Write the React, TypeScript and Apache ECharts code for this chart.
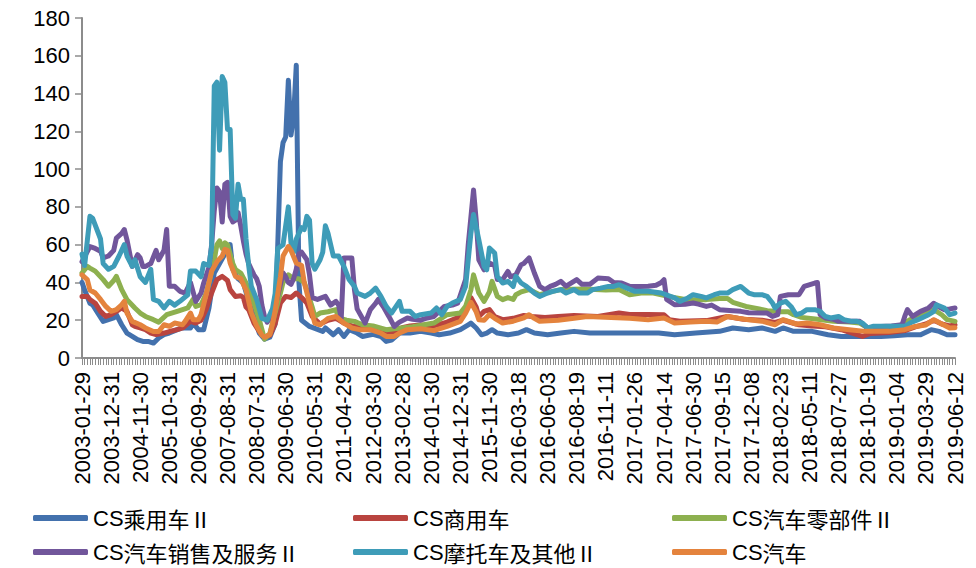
import React, { useEffect, useRef } from "react";
import * as echarts from "echarts";

// Tick label dates (every 11th category)
const labelDates = [
  "2003-01-29", "2003-12-31", "2004-11-30", "2005-10-31", "2006-09-29", "2007-08-31",
  "2008-07-31", "2009-06-30", "2010-05-31", "2011-04-29", "2012-03-30", "2013-02-28",
  "2014-01-30", "2014-12-31", "2015-11-30", "2016-03-18", "2016-06-03", "2016-08-19",
  "2016-11-11", "2017-01-26", "2017-04-14", "2017-06-30", "2017-09-15", "2017-12-08",
  "2018-02-23", "2018-05-11", "2018-07-27", "2018-10-19", "2019-01-04", "2019-03-29",
  "2019-06-12",
];

const seriesNames = [
  "CS乘用车Ⅱ",
  "CS商用车",
  "CS汽车零部件Ⅱ",
  "CS汽车销售及服务Ⅱ",
  "CS摩托车及其他Ⅱ",
  "CS汽车",
];

// [category index, value] pairs
const passengerCar = [
  [0,40],[1,36],[3,29],[4,28.2],[6,23.8],[8,19.4],[10,20.3],[12,21.2],[13,23],[15,17.6],[17,13.2],[19,11.5],
  [21,9.7],[23,8.8],[25,8.8],[27,7.9],[29,10.6],[31,12.4],[33,13.2],[36,15],[38,15.9],[41,15.9],[42,18.5],
  [44,15],[46,15],[48,26.5],[50,45],[52,50],[54,55],[55,58],[56,60],[57,47],[59,42],[61,39.7],[63,30],[65,22],
  [67,13.2],[69,10],[71,11],[73,18],[74,60],[75,104],[76,114],[77,117],[78,147],[79,118],[80,128],[81,155],
  [82,40],[83,20],[86,16.7],[91,14.1],[92,15.9],[95,12.3],[97,15],[99,11.4],[101,15],[104,13.2],[106,11.4],
  [110,12.5],[113,11.4],[115,8.8],[117,9.5],[120,13.2],[124,13.2],[128,14.1],[132,13.2],[135,12.3],[139,13.2],
  [143,15],[146,17.6],[147,18.5],[149,15.9],[151,12.3],[153,13.2],[155,15],[157,13.2],[161,12.3],[165,13.2],
  [168,15],[171,13.2],[176,12.3],[181,13.2],[186,14.1],[192,13.2],[200,13.2],[206,13.2],[211,13.2],[218,13.2],
  [224,12.3],[232,13.2],[241,14.1],[246,15.9],[252,15],[257,15.9],[262,14.1],[265,15.9],[269,14.1],[276,14.1],
  [282,12.3],[287,11.4],[295,11.4],[302,11.4],[307,11.8],[312,12.3],[317,12.3],[321,15],[324,14.1],[327,12.3],
  [330,12.3],
];

const commercialCar = [
  [0,32.6],[2,32.6],[3,31],[5,29],[7,24.7],[9,22],[11,23],[13,24.7],[15,26.5],[17,24.7],[19,17.6],[20,16.8],
  [22,15.9],[24,15],[26,13.2],[28,12.4],[31,13.2],[33,14],[36,15],[38,15.9],[41,19.4],[43,18.5],[45,20],[47,26],
  [49,34.4],[51,41.5],[53,43.2],[55,41],[56,36.2],[58,32.6],[60,33],[61,32],[62,27],[63,25.6],[65,18.5],[67,14.1],
  [69,11],[71,12],[73,18],[75,29.1],[77,32.6],[79,32],[81,34.4],[83,32],[85,29.1],[87,22],[90,18],[93,20],[96,21],
  [99,18.5],[102,17],[106,16.5],[110,16],[113,15],[115,14],[118,14],[121,16],[124,17],[128,17.5],[133,17],[138,19],
  [143,22],[145,25],[147,32],[149,27],[150,22],[152,24.7],[154,25.6],[156,22],[159,20.3],[163,21],[167,22.5],
  [170,22],[175,21.5],[180,22],[186,22.5],[195,22],[203,23.8],[207,23],[214,23],[220,22.9],[222,20.3],[226,19.5],
  [236,19.8],[244,22],[250,20.5],[257,20],[262,18.8],[265,20],[271,17.6],[276,17],[281,16.5],[287,15],[295,11.4],
  [298,13],[305,13.5],[311,14.5],[315,16.5],[319,18],[322,20],[325,18],[328,17],[330,17.6],
];

const autoParts = [
  [0,45],[2,48.5],[3,47.6],[5,46],[8,41.5],[10,38],[12,41],[13,43.2],[15,36.2],[17,30.9],[20,26.5],[22,23.8],
  [24,22],[27,20.3],[29,19],[32,22.9],[36,24.7],[40,26.5],[42,31],[43,27.3],[45,28.2],[47,34.4],[49,46],[50,52],
  [51,60],[52,62],[53,58],[54,61],[55,60],[56,55],[57,50],[58,46.8],[60,45],[62,39.7],[65,29],[67,20.3],[69,10],
  [71,13],[73,24],[75,34.4],[76,40],[78,44],[80,42],[82,42],[84,40],[85,36],[87,27],[88,22],[90,23.8],[93,24.5],
  [96,25.6],[97,21.2],[100,20],[103,19.4],[106,17.6],[110,17],[115,15],[118,15.5],[125,16.5],[133,18.5],
  [138,22.9],[143,23.8],[145,27.3],[147,36],[148,44],[150,34.4],[152,30],[154,35],[155,40.6],[157,32.6],
  [159,30.9],[161,32],[163,31],[164,33.5],[166,35],[169,36.2],[173,33.5],[177,35],[181,36.2],[190,36.5],
  [198,36],[203,36.2],[207,33.5],[212,34.5],[216,34.4],[222,32.5],[228,31],[236,30.9],[241,31.5],[244,31.5],
  [246,29.5],[251,27.3],[256,26],[259,25],[264,24.5],[267,24.5],[269,22.9],[272,21.5],[278,20.5],[284,19.4],
  [290,19],[294,18.5],[297,15.9],[303,16.5],[307,16.7],[310,17.5],[313,20.3],[317,22],[320,24.7],[322,25.6],
  [325,22.9],[327,20.3],[330,19.4],
];

const salesService = [
  [0,51],[3,59],[5,58],[7,56.5],[8,53],[10,54],[12,57],[13,63.5],[15,66],[16,68],[17,62.6],[19,48.5],[21,54.7],
  [22,53],[23,48.5],[24,48.5],[26,50],[28,57],[29,52],[31,57],[32,68],[33,38],[35,38],[37,35.3],[39,34.4],
  [41,40],[43,30],[45,34.4],[46,39.7],[48,48],[49,60],[50,78],[51,90],[52,88],[53,72],[54,92],[55,93],[56,75],
  [57,72],[58,73],[59,77],[60,70],[61,62],[62,55],[63,50],[64,47],[65,44],[66,42],[67,38],[68,28],[69,22],
  [70,19],[71,21],[72,23],[73,27],[74,33],[75,39],[76,45],[77,43],[78,40],[79,39],[80,42],[81,47],[82,55],
  [83,56],[84,54],[85,52],[86,44],[87,32],[89,31],[92,32.6],[94,28],[96,30],[97,28],[98,21],[99,53],[102,53],
  [103,36],[104,26],[107,18.5],[109,25.6],[111,29],[112,31],[114,27],[116,22],[118,16.7],[120,19],[123,21.2],
  [125,20.5],[128,20],[130,21],[133,22],[135,24.7],[137,27.3],[140,28],[142,29],[145,41.5],[146,60],[148,89],
  [149,73],[150,52],[152,46.7],[154,50.3],[156,49],[157,41.5],[159,41.5],[161,45.8],[162,43],[164,44],
  [166,49.4],[167,50],[169,53],[171,45],[173,37.9],[175,36.2],[177,37.9],[179,39],[181,40.6],[183,38],
  [187,41.5],[189,39],[192,39],[195,42.3],[199,42],[201,40],[204,39.7],[207,37.9],[211,37.9],[214,38],
  [217,38.5],[219,40],[220,41.5],[221,31],[224,28.2],[228,28.5],[231,29.1],[233,28.5],[236,27.3],[238,28],
  [241,25.6],[246,25],[249,24.7],[252,24],[259,23.8],[261,22],[263,23],[264,32.6],[267,33.5],[271,33.5],
  [273,37.9],[277,39.7],[278,40],[279,23],[281,21.2],[284,20.5],[286,19.4],[291,19.5],[294,19.4],[297,15.9],
  [300,16.5],[306,17],[310,17.6],[311,22],[312,25.6],[314,22],[317,24.7],[320,26.5],[322,29],[324,27],
  [326,25.6],[328,26],[330,26.5],
];

const motorOther = [
  [0,55],[1,49],[3,75],[4,74],[7,63],[8,50],[10,47],[12,48.5],[14,54],[16,60],[17,54],[19,48.5],[20,52],[22,43],
  [24,40],[26,47],[27,31],[29,30],[31,26.5],[33,30],[35,28],[37,30],[40,33.5],[41,46],[43,46],[45,43],[46,50],
  [48,49],[49,59],[50,144],[51,146],[52,110],[53,149],[54,146],[55,121],[56,121],[57,76],[58,74],[59,92],
  [60,84],[61,84],[62,63],[63,49],[64,38],[66,31],[68,21],[70,20],[72,26],[73,34],[74,58],[76,60],[78,80],
  [79,61],[80,56],[81,63],[83,69],[84,68],[85,75],[86,73],[87,50],[88,47],[90,52],[91,56],[92,70],[93,66],
  [95,54],[97,54],[99,48.5],[101,41.4],[103,37.9],[104,34.4],[107,32.6],[109,34.4],[111,37],[113,32.6],
  [115,27.3],[117,23.8],[120,30],[121,24.7],[124,24.7],[126,22],[128,22.9],[132,23.8],[134,26.5],[136,22.9],
  [138,27.3],[140,29.1],[143,30.9],[145,37.9],[147,66],[148,76],[150,62.6],[152,48.5],[153,46.7],[154,58.2],
  [156,55.6],[157,43.2],[159,39.7],[161,40.6],[163,37.9],[164,43.2],[166,39.7],[168,37.9],[171,34.4],
  [173,32.6],[176,34.4],[178,35.3],[181,36.2],[183,34.4],[186,36.2],[188,34.4],[191,34.4],[193,36.2],[196,37],
  [199,37.9],[201,37.9],[203,38.8],[206,37],[209,35.3],[214,35.3],[219,34.4],[224,31.8],[226,30],[229,31.8],
  [231,33.5],[234,32.6],[236,31.8],[239,33.5],[241,34.4],[244,34.4],[246,36.2],[249,37.9],[252,34.4],
  [254,33.5],[257,33.5],[259,32.6],[261,29.1],[262,26.5],[264,29.1],[266,30],[268,27.3],[270,22.9],[272,23.8],
  [274,25.6],[277,25.6],[279,24.7],[281,22],[283,21.2],[286,22],[288,20.3],[291,19.4],[293,19.4],[295,18.5],
  [297,15.9],[299,16.8],[303,16.8],[307,16.8],[311,16.8],[313,18.5],[316,20.3],[320,22.9],[322,24.7],
  [323,28.2],[326,26.5],[328,22.9],[330,23.8],
];

const autoTotal = [
  [0,44],[2,41.5],[3,36],[5,34.4],[7,31],[9,27.3],[11,24.7],[13,25.6],[15,28.2],[16,30],[17,23.8],[19,19.4],
  [22,17.6],[24,15.9],[27,14],[29,14],[31,17.6],[33,16.8],[35,18.5],[38,17.6],[39,19.4],[41,23.8],[42,20.3],
  [44,20.3],[45,23],[47,34],[49,46],[51,51],[53,54],[54,57.5],[55,57],[56,50.3],[58,43.2],[60,42],[62,36],
  [64,24],[66,17],[68,12],[69,11],[71,12.4],[72,18],[73,25],[75,43],[76,54],[78,59],[79,57],[81,50.3],[83,49],
  [84,40],[86,29],[88,18.5],[90,17.6],[93,21],[96,22],[99,18.5],[102,15.9],[105,15],[109,15],[113,13.2],
  [115,11.4],[118,11.4],[120,13.2],[123,15],[128,15.5],[133,14.5],[138,16.7],[143,19.4],[145,23.8],[147,29.5],
  [149,24.5],[150,20.3],[152,20],[154,23],[156,21],[159,18.5],[163,19.5],[167,21.2],[169,22.9],[171,21],
  [173,19.4],[180,20],[186,21],[191,22],[200,21.5],[207,21],[214,20.3],[220,21.2],[224,18.5],[230,19],
  [236,19.5],[240,19],[244,22],[248,21],[252,20.3],[257,19.5],[262,17.6],[265,20.3],[270,18],[274,18.5],
  [279,17.6],[284,15.9],[290,15],[296,14.1],[305,14.1],[311,15],[315,16.7],[319,17.5],[322,20.3],[325,18],
  [328,15.9],[330,16],
];

const seriesData = [passengerCar, commercialCar, autoParts, salesService, motorOther, autoTotal];
const seriesColors = ["#4371AD", "#B9443F", "#8DB04F", "#71569B", "#3E9CB8", "#E4833D"];

function buildCategories(): string[] {
  const out: string[] = [];
  const day = 86400000;
  for (let k = 0; k < labelDates.length - 1; k++) {
    const s = Date.parse(labelDates[k]);
    const e = Date.parse(labelDates[k + 1]);
    for (let j = 0; j < 11; j++) {
      const d = new Date(s + Math.round((j * (e - s)) / 11 / day) * day);
      out.push(j === 0 ? labelDates[k] : d.toISOString().slice(0, 10));
    }
  }
  out.push(labelDates[labelDates.length - 1]);
  return out;
}

export default function App() {
  const ref = useRef<HTMLDivElement>(null);
  useEffect(() => {
    if (!ref.current) return;
    const chart = echarts.init(ref.current, null, { renderer: "svg" });
    const categories = buildCategories();
    const legendPos = [
      [33, 507], [353, 507], [672, 507],
      [33, 541], [353, 541], [672, 541],
    ];
    chart.setOption({
      animation: false,
      backgroundColor: "#ffffff",
      grid: { left: 82, right: 21, top: 18, bottom: 210, containLabel: false },
      legend: seriesNames.map((n, i) => ({
        data: [n],
        left: legendPos[i][0],
        top: legendPos[i][1],
        padding: 0,
        icon: "roundRect",
        itemWidth: 55,
        itemHeight: 6,
        selectedMode: false,
        formatter: (name: string) => `{a|${name.slice(0, 2)}}{b|${name.slice(2)}}`,
        textStyle: {
          fontSize: 22,
          color: "#000",
          rich: {
            a: { fontSize: 22, color: "#000", fontFamily: "'Liberation Sans', Arial, sans-serif" },
            b: { fontSize: 22, color: "#000", fontFamily: "'Noto Sans CJK SC', sans-serif" },
          },
        },
      })),
      xAxis: {
        type: "category",
        data: categories,
        boundaryGap: false,
        axisLine: { show: true, lineStyle: { color: "#8c8c8c", width: 2 } },
        axisTick: { show: true, interval: 0, length: 7, lineStyle: { color: "#8c8c8c", width: 1 } },
        axisLabel: {
          interval: 10,
          rotate: 90,
          margin: 14,
          color: "#000",
          fontSize: 22,
          fontFamily: "'Liberation Sans', Arial, sans-serif",
        },
        splitLine: { show: false },
      },
      yAxis: {
        type: "value",
        min: 0,
        max: 180,
        interval: 20,
        axisLine: { show: true, lineStyle: { color: "#8c8c8c", width: 2 } },
        axisTick: { show: true, length: 7, lineStyle: { color: "#8c8c8c", width: 1.5 } },
        axisLabel: {
          margin: 12,
          color: "#000",
          fontSize: 22,
          fontFamily: "'Liberation Sans', Arial, sans-serif",
        },
        splitLine: { show: false },
      },
      series: seriesNames.map((n, i) => ({
        name: n,
        type: "line",
        data: seriesData[i],
        showSymbol: false,
        symbol: "none",
        color: seriesColors[i],
        lineStyle: { width: 5, color: seriesColors[i], cap: "round", join: "round" },
        z: 2 + i,
      })),
    });
    return () => chart.dispose();
  }, []);
  return (
    <div
      ref={ref}
      style={{ position: "fixed", left: 0, top: 0, width: 976, height: 568, background: "#fff" }}
    />
  );
}
